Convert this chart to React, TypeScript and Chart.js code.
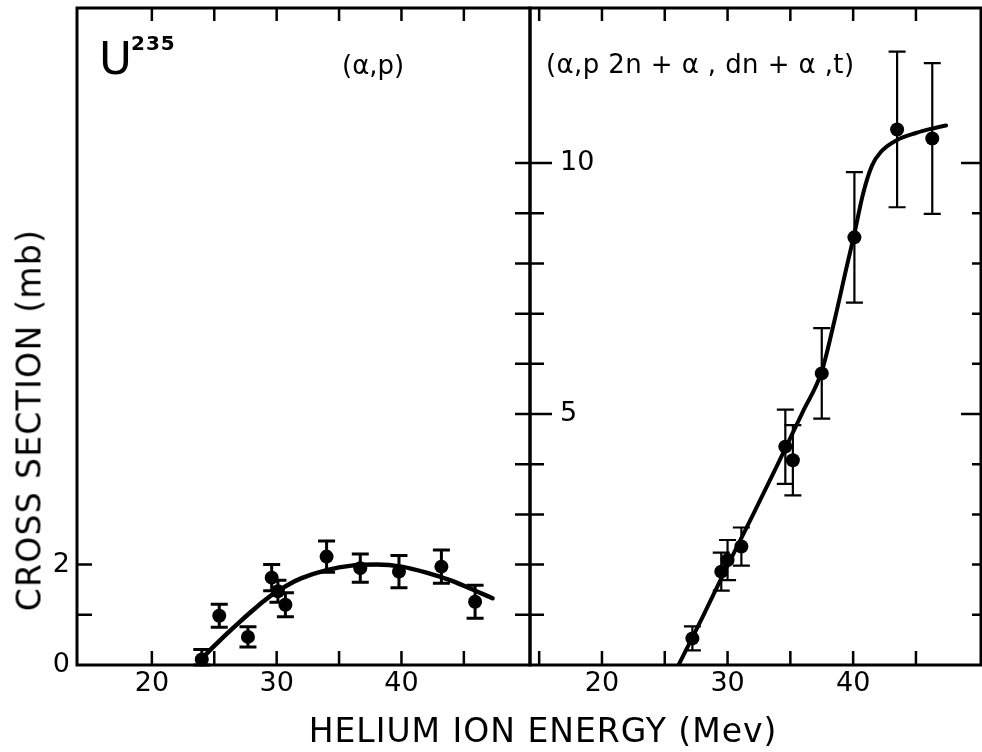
import React, { useEffect, useRef } from 'react';
import { Chart, registerables } from 'chart.js';

Chart.register(...registerables);

const FONT = '"DejaVu Sans", "Liberation Sans", sans-serif';

// ---------- data: left panel, U235 (alpha,p) ----------
const LEFT_POINT_ENERGY = [24.0, 25.4, 27.7, 29.6, 30.1, 30.7, 34.0, 36.7, 39.8, 43.2, 45.9];
const LEFT_POINT_SIGMA = [0.11, 0.98, 0.56, 1.74, 1.47, 1.2, 2.16, 1.93, 1.86, 1.96, 1.26];
const LEFT_POINT_ERROR = [0.2, 0.23, 0.2, 0.26, 0.22, 0.24, 0.31, 0.28, 0.32, 0.33, 0.33];
const LEFT_CURVE_ENERGY = [24.2, 25, 26, 27, 28, 29, 30, 31, 32, 34, 36, 38, 40, 42, 44, 46, 47.3];
const LEFT_CURVE_SIGMA = [0.18, 0.38, 0.62, 0.85, 1.07, 1.28, 1.46, 1.61, 1.73, 1.89, 1.98, 2.0, 1.96, 1.84, 1.68, 1.47, 1.33];

// ---------- data: right panel, (alpha,p2n + alpha,dn + alpha,t) ----------
const RIGHT_POINT_ENERGY = [27.2, 29.5, 30.0, 31.1, 34.6, 35.2, 37.5, 40.1, 43.5, 46.3];
const RIGHT_POINT_SIGMA = [0.53, 1.86, 2.09, 2.36, 4.35, 4.08, 5.81, 8.52, 10.67, 10.49];
const RIGHT_POINT_ERROR = [0.24, 0.38, 0.4, 0.38, 0.74, 0.7, 0.9, 1.3, 1.55, 1.5];
const RIGHT_CURVE_ENERGY = [26.1, 28, 30, 32, 34, 36, 37.5, 38.5, 39.5, 40.06, 40.8, 41.5, 42.2, 43.5, 45, 46.5, 47.4];
const RIGHT_CURVE_SIGMA = [0, 0.95, 1.98, 2.98, 4.0, 5.05, 5.85, 6.85, 7.95, 8.55, 9.4, 9.95, 10.22, 10.46, 10.6, 10.7, 10.75];

// ---------- ticks ----------
const X_TICK_LABELS = [20, 30, 40];
const LEFT_X_TICK_MARKS = [20, 25, 30, 35, 40, 45];
const RIGHT_X_TICK_MARKS = [15, 20, 25, 30, 35, 40, 45];
const LEFT_Y_TICK_LABELS = [0, 2];
const LEFT_Y_TICK_MARKS = [1, 2];
const RIGHT_Y_TICK_LABELS = [5, 10];
const DIVIDER_Y_TICK_MARKS = [1, 2, 3, 4, 5, 6, 7, 8, 9, 10];
const RIGHT_Y_MAJOR = [5, 10];

const Y_MAX = 13.09;

type TickSpec = { values: number[]; side: 'top' | 'bottom' | 'left' | 'right'; len: (v: number) => number };

function overlayPlugin(
  e: number[],
  s: number[],
  err: number[],
  errWidth: number,
  cap: number,
  ticks: TickSpec[],
) {
  return {
    id: 'overlay',
    beforeDatasetsDraw(chart: any) {
      const { ctx } = chart;
      const xs = chart.scales.x;
      const ys = chart.scales.y;
      ctx.save();
      ctx.strokeStyle = '#000';
      ctx.lineWidth = errWidth;
      for (let i = 0; i < e.length; i++) {
        const px = xs.getPixelForValue(e[i]);
        const top = ys.getPixelForValue(s[i] + err[i]);
        const bot = ys.getPixelForValue(Math.max(0, s[i] - err[i]));
        ctx.beginPath();
        ctx.moveTo(px, top);
        ctx.lineTo(px, bot);
        ctx.moveTo(px - cap, top);
        ctx.lineTo(px + cap, top);
        ctx.moveTo(px - cap, bot);
        ctx.lineTo(px + cap, bot);
        ctx.stroke();
      }
      ctx.restore();
    },
    afterDraw(chart: any) {
      const { ctx, chartArea: a } = chart;
      const xs = chart.scales.x;
      const ys = chart.scales.y;
      ctx.save();
      ctx.strokeStyle = '#000';
      ctx.lineWidth = 3;
      ctx.strokeRect(a.left, a.top, a.right - a.left, a.bottom - a.top);
      ctx.lineWidth = 2.5;
      ctx.beginPath();
      for (const t of ticks) {
        for (const v of t.values) {
          const L = t.len(v);
          if (t.side === 'bottom' || t.side === 'top') {
            const px = xs.getPixelForValue(v);
            const y0 = t.side === 'bottom' ? a.bottom : a.top;
            const dir = t.side === 'bottom' ? -1 : 1;
            ctx.moveTo(px, y0);
            ctx.lineTo(px, y0 + dir * L);
          } else {
            const py = ys.getPixelForValue(v);
            const x0 = t.side === 'left' ? a.left : a.right;
            const dir = t.side === 'left' ? 1 : -1;
            ctx.moveTo(x0, py);
            ctx.lineTo(x0 + dir * L, py);
          }
        }
      }
      ctx.stroke();
      ctx.restore();
    },
  };
}

function zeroPad(s: any) {
  s.paddingLeft = 0;
  s.paddingRight = 0;
  s.paddingTop = 0;
  s.paddingBottom = 0;
}

function buildConfig(opts: {
  curveE: number[];
  curveS: number[];
  ptsE: number[];
  ptsS: number[];
  ptsErr: number[];
  xMin: number;
  xMax: number;
  yLabels: number[];
  yWidth: number;
  mirror: boolean;
  yPad: number;
  padding: any;
  curveWidth: number;
  errWidth: number;
  ticks: TickSpec[];
}): any {
  return {
    type: 'scatter',
    data: {
      datasets: [
        {
          data: opts.ptsE.map((e, i) => ({ x: e, y: opts.ptsS[i] })),
          pointRadius: 7,
          pointHoverRadius: 7,
          backgroundColor: '#000',
          borderColor: '#000',
          borderWidth: 0,
          showLine: false,
          clip: false,
          order: 1,
        },
        {
          data: opts.curveE.map((e, i) => ({ x: e, y: opts.curveS[i] })),
          showLine: true,
          pointRadius: 0,
          pointHoverRadius: 0,
          borderColor: '#000',
          borderWidth: opts.curveWidth,
          borderCapStyle: 'round',
          cubicInterpolationMode: 'monotone',
          fill: false,
          order: 2,
        },
      ],
    },
    options: {
      responsive: false,
      animation: false,
      events: [],
      layout: { padding: opts.padding, autoPadding: false },
      plugins: { legend: { display: false }, tooltip: { enabled: false } },
      scales: {
        x: {
          type: 'linear',
          position: 'bottom',
          min: opts.xMin,
          max: opts.xMax,
          grid: { display: false, drawTicks: false },
          border: { display: false },
          afterBuildTicks: (s: any) => {
            s.ticks = X_TICK_LABELS.map((v) => ({ value: v }));
          },
          afterFit: (s: any) => {
            s.height = 87;
            zeroPad(s);
          },
          ticks: {
            font: { family: FONT, size: 27, lineHeight: 1 },
            color: '#000',
            padding: 5,
            maxRotation: 0,
            autoSkip: false,
            callback: (v: any) => String(v),
          },
        },
        y: {
          type: 'linear',
          position: 'left',
          min: 0,
          max: Y_MAX,
          grid: { display: false, drawTicks: false },
          border: { display: false },
          afterBuildTicks: (s: any) => {
            s.ticks = opts.yLabels.map((v) => ({ value: v }));
          },
          afterFit: (s: any) => {
            s.width = opts.yWidth;
            zeroPad(s);
          },
          ticks: {
            font: { family: FONT, size: 27, lineHeight: 1 },
            color: '#000',
            padding: opts.yPad,
            mirror: opts.mirror,
            autoSkip: false,
            callback: (v: any) => String(v),
          },
        },
      },
    },
    plugins: [overlayPlugin(opts.ptsE, opts.ptsS, opts.ptsErr, opts.errWidth, 8.5, opts.ticks)],
  };
}

function Panel(props: { config: () => any; left: number; width: number; height: number }) {
  const ref = useRef<HTMLCanvasElement>(null);
  useEffect(() => {
    const chart = new Chart(ref.current as HTMLCanvasElement, props.config());
    return () => chart.destroy();
  }, []);
  return (
    <canvas
      ref={ref}
      width={props.width}
      height={props.height}
      style={{ position: 'absolute', left: props.left, top: 0, width: props.width, height: props.height }}
    />
  );
}

const leftConfig = () =>
  buildConfig({
    curveE: LEFT_CURVE_ENERGY,
    curveS: LEFT_CURVE_SIGMA,
    ptsE: LEFT_POINT_ENERGY,
    ptsS: LEFT_POINT_SIGMA,
    ptsErr: LEFT_POINT_ERROR,
    xMin: 14.0,
    xMax: 50.3,
    yLabels: LEFT_Y_TICK_LABELS,
    yWidth: 77,
    mirror: false,
    yPad: 7,
    padding: { top: 8, right: 15, left: 0, bottom: 0 },
    curveWidth: 4.5,
    errWidth: 3,
    ticks: [
      { values: LEFT_X_TICK_MARKS, side: 'bottom', len: () => 14 },
      { values: LEFT_X_TICK_MARKS, side: 'top', len: () => 13 },
      { values: LEFT_Y_TICK_MARKS, side: 'left', len: () => 15 },
      { values: DIVIDER_Y_TICK_MARKS, side: 'right', len: () => 15 },
    ],
  });

const rightConfig = () =>
  buildConfig({
    curveE: RIGHT_CURVE_ENERGY,
    curveS: RIGHT_CURVE_SIGMA,
    ptsE: RIGHT_POINT_ENERGY,
    ptsS: RIGHT_POINT_SIGMA,
    ptsErr: RIGHT_POINT_ERROR,
    xMin: 14.27,
    xMax: 50.18,
    yLabels: RIGHT_Y_TICK_LABELS,
    yWidth: 15,
    mirror: true,
    yPad: 30,
    padding: { top: 8, right: 1, left: 0, bottom: 0 },
    curveWidth: 4,
    errWidth: 2.2,
    ticks: [
      { values: RIGHT_X_TICK_MARKS, side: 'bottom', len: () => 14 },
      { values: RIGHT_X_TICK_MARKS, side: 'top', len: () => 13 },
      { values: DIVIDER_Y_TICK_MARKS, side: 'left', len: (v) => (RIGHT_Y_MAJOR.includes(v) ? 22 : 14) },
      { values: DIVIDER_Y_TICK_MARKS, side: 'right', len: (v) => (RIGHT_Y_MAJOR.includes(v) ? 20 : 9) },
    ],
  });

const textBase: React.CSSProperties = {
  position: 'absolute',
  fontFamily: FONT,
  color: '#000',
  whiteSpace: 'nowrap',
  lineHeight: 1,
};

export default function App() {
  return (
    <div
      style={{
        position: 'absolute',
        left: 0,
        top: 0,
        width: 982,
        height: 752,
        overflow: 'hidden',
        background: '#fff',
      }}
    >
      <Panel config={leftConfig} left={0} width={545} height={752} />
      <Panel config={rightConfig} left={515} width={467} height={752} />

      <div style={{ ...textBase, left: 99, top: 36, fontSize: 45 }}>U</div>
      <div style={{ ...textBase, left: 131, top: 33, fontSize: 20, fontWeight: 'bold', letterSpacing: '1px' }}>235</div>
      <div style={{ ...textBase, left: 342, top: 52, fontSize: 26 }}>(α,p)</div>
      <div style={{ ...textBase, left: 546, top: 51, fontSize: 26, letterSpacing: '0.4px' }}>
        (α,p 2n + α , dn + α ,t)
      </div>

      <div
        style={{
          ...textBase,
          left: 543,
          top: 714,
          fontSize: 33,
          letterSpacing: '1px',
          transform: 'translateX(-50%)',
        }}
      >
        HELIUM ION ENERGY (Mev)
      </div>
      <div
        style={{
          ...textBase,
          left: 29,
          top: 420,
          fontSize: 33,
          letterSpacing: '1.3px',
          transform: 'translate(-50%, -50%) rotate(-90deg)',
        }}
      >
        CROSS SECTION (mb)
      </div>
    </div>
  );
}
